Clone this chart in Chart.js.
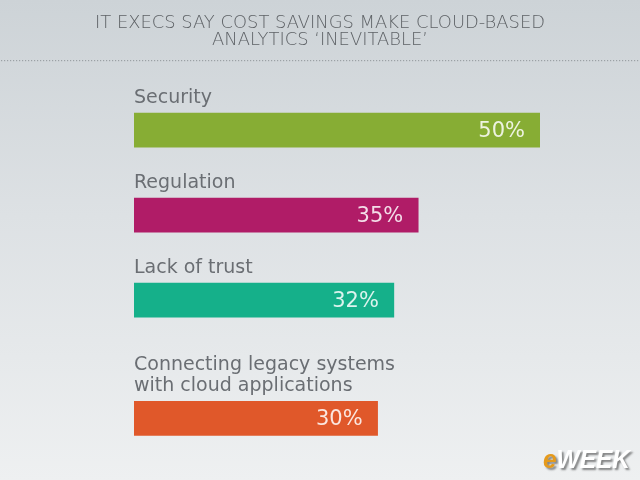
<!DOCTYPE html>
<html>
<head>
<meta charset="utf-8">
<script src="https://cdn.jsdelivr.net/npm/chart.js@4"></script>
<style>
  body { margin: 0; }
  #wrap {
    width: 640px; height: 480px; position: relative;
    background: linear-gradient(180deg, #cdd3d7 0%, #dde1e4 45%, #eef0f1 100%);
  }
</style>
</head>
<body>
<div id="wrap"><canvas id="chart"></canvas></div>
<script>
const titleLines = ['IT EXECS SAY COST SAVINGS MAKE CLOUD-BASED', 'ANALYTICS \u2018INEVITABLE\u2019'];
const categories = ['Security', 'Regulation', 'Lack of trust', ['Connecting legacy systems', 'with cloud applications']];
const shares = [50, 35, 32, 30];
const barColors = ['#87ad34', '#b01c67', '#15b08a', '#e0582a'];

// rows with two-line labels need extra room above the bar
let extra = 0;
const rowPos = categories.map((c, i) => {
    if (Array.isArray(c)) extra += (c.length - 1) * 0.39;
    return i + extra;
});

const decorPlugin = {
    id: 'decor',
    beforeDraw(chart) {
        const ctx = chart.ctx;
        ctx.save();
        ctx.fillStyle = '#5e6266';
        ctx.font = '200 17px "DejaVu Sans", Lato, sans-serif';
        ctx.textAlign = 'center';
        ctx.textBaseline = 'alphabetic';
        // squeeze/stretch the title so the first line spans ~450px like the original
        const k = 450 / ctx.measureText(titleLines[0]).width;
        ctx.translate(320, 0);
        ctx.scale(k, 1);
        titleLines.forEach((line, i) => ctx.fillText(line, 0, 28 + i * 17));
        ctx.restore();
        // dotted rule under the title
        ctx.save();
        ctx.fillStyle = '#9ba1a5';
        for (let x = 1; x < 640; x += 3) ctx.fillRect(x, 60, 1.2, 1.2);
        ctx.restore();
    },
    afterDatasetsDraw(chart) {
        const ctx = chart.ctx;
        const meta = chart.getDatasetMeta(0);
        ctx.save();
        meta.data.forEach((bar, i) => {
            const top = bar.y - bar.height / 2;
            const lines = Array.isArray(categories[i]) ? categories[i] : [categories[i]];
            ctx.fillStyle = '#6a6e73';
            ctx.font = '19px "DejaVu Sans", Verdana, sans-serif';
            ctx.textAlign = 'left';
            ctx.textBaseline = 'alphabetic';
            lines.forEach((line, j) => {
                ctx.fillText(line, bar.base, top - 10 - (lines.length - 1 - j) * 21);
            });
            ctx.fillStyle = 'rgba(255,255,255,0.85)';
            ctx.font = '21px "DejaVu Sans", Verdana, sans-serif';
            ctx.textAlign = 'right';
            ctx.textBaseline = 'middle';
            ctx.fillText(shares[i] + '%', bar.x - 15, bar.y + 1);
        });
        ctx.restore();
        // eWEEK mark
        ctx.save();
        ctx.font = 'italic bold 26px "Liberation Sans", sans-serif';
        ctx.textAlign = 'left';
        ctx.textBaseline = 'alphabetic';
        const ew = ctx.measureText('e').width;
        const k = 87 / ctx.measureText('eWEEK').width;
        ctx.translate(543, 468);
        ctx.scale(k, 1);
        ctx.shadowColor = 'rgba(0,0,0,0.45)';
        ctx.shadowOffsetX = 2;
        ctx.shadowOffsetY = 2;
        ctx.shadowBlur = 2;
        ctx.fillStyle = '#e59a1c';
        ctx.fillText('e', 0, 0);
        ctx.fillStyle = '#ffffff';
        ctx.fillText('WEEK', ew, 0);
        ctx.restore();
    }
};

new Chart(document.getElementById('chart'), {
    type: 'bar',
    data: {
        datasets: [{
            data: shares.map((v, i) => ({ x: v, y: rowPos[i] })),
            backgroundColor: barColors,
            borderWidth: 0,
            barThickness: 34
        }]
    },
    options: {
        indexAxis: 'y',
        responsive: true,
        maintainAspectRatio: false,
        animation: false,
        layout: { padding: { top: 80, bottom: 20, left: 134, right: 100 } },
        scales: {
            x: { type: 'linear', min: 0, max: 50, display: false, offset: false },
            y: { type: 'linear', reverse: true, min: -0.59, max: 3.88, display: false, offset: false }
        },
        plugins: {
            legend: { display: false },
            tooltip: { enabled: false }
        }
    },
    plugins: [decorPlugin]
});
</script>
</body>
</html>
